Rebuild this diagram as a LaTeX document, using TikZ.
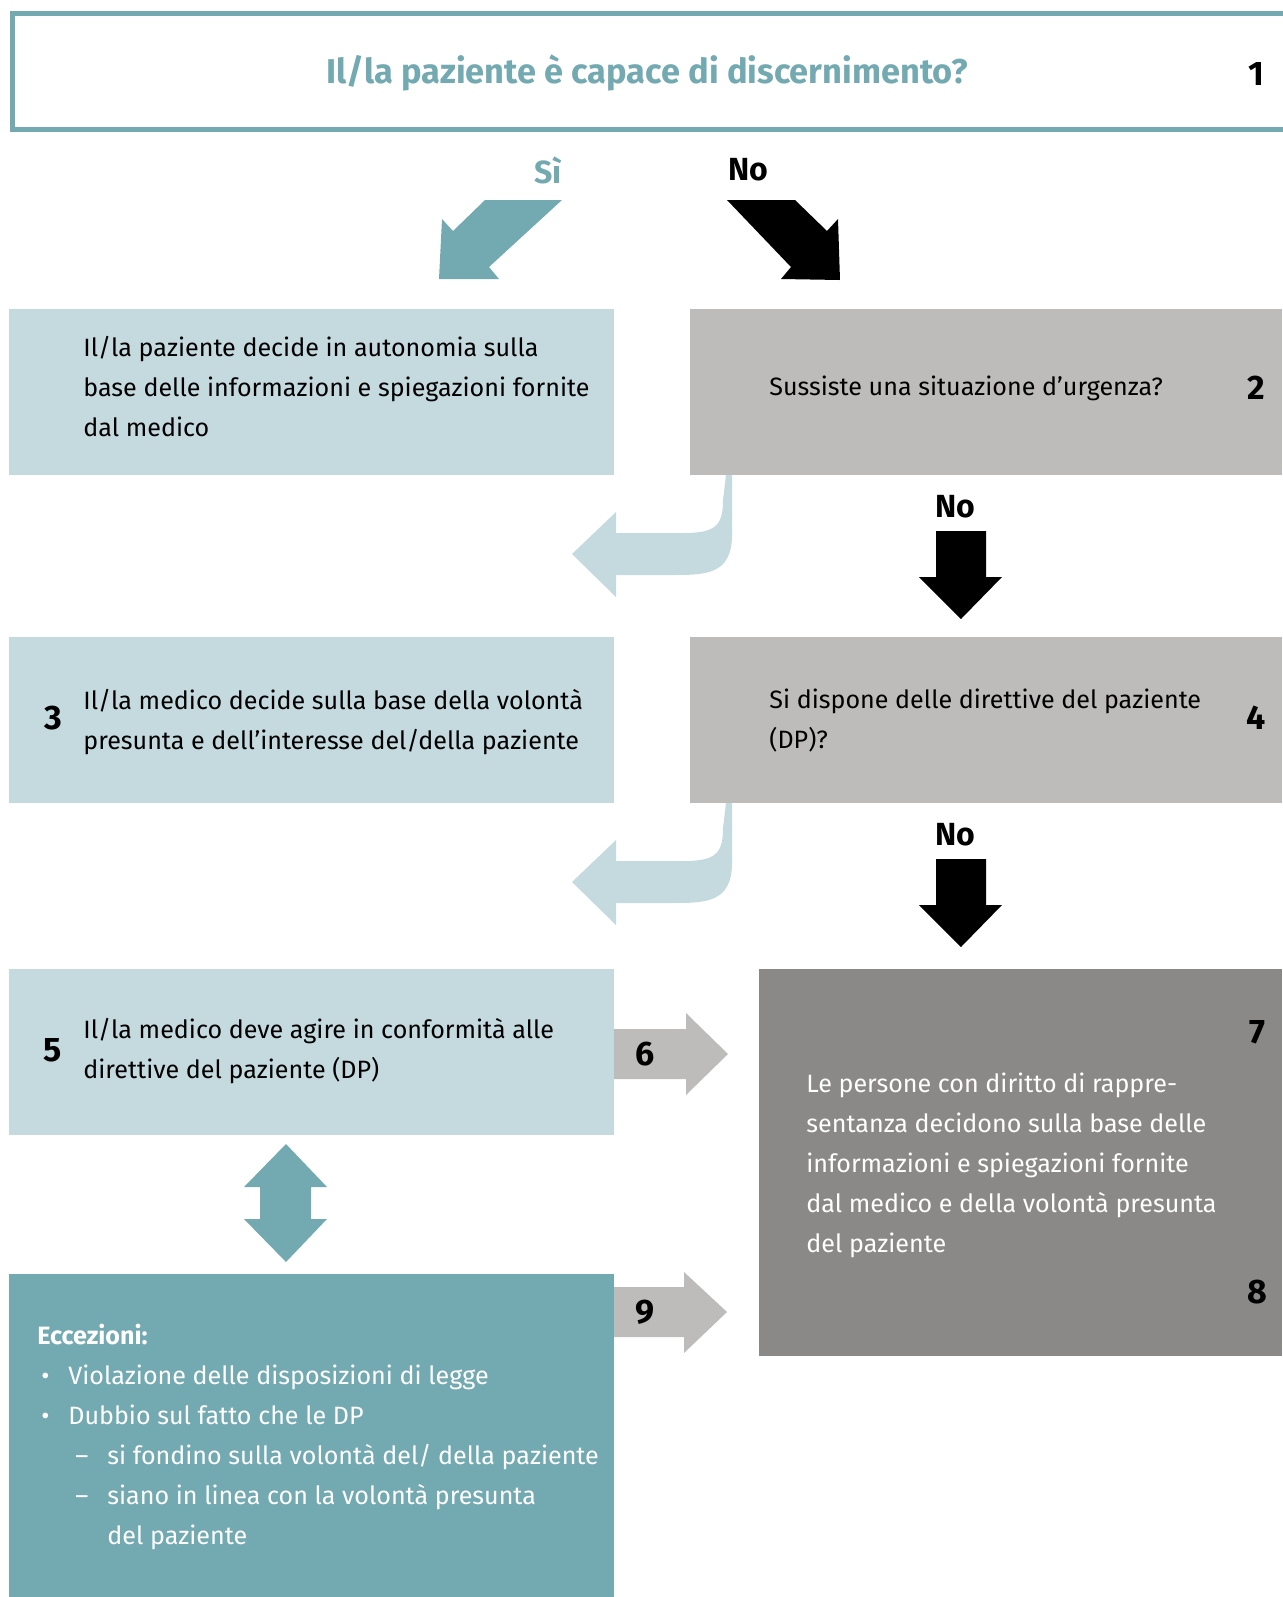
\documentclass[tikz,border=0pt]{standalone}
\usepackage{fontspec}
\setmainfont{Fira Sans}

\definecolor{swteal}{HTML}{73A9B1}
\definecolor{swlight}{HTML}{C4DADF}
\definecolor{swgray}{HTML}{BDBCBA}
\definecolor{swdark}{HTML}{8A8987}

\tikzset{
    txt/.style={anchor=west,align=left,inner sep=0pt,font=\fontsize{12.55}{20}\selectfont},
    num/.style={inner sep=0pt,font=\fontsize{17}{20}\selectfont\bfseries},
    lbl/.style={inner sep=0pt,font=\fontsize{16}{20}\selectfont\bfseries},
}

\begin{document}
\begin{tikzpicture}[x=0.5pt,y=-0.5pt]
    \useasboundingbox (0,0) rectangle (1282,1597);

    % question 1
    \draw[swteal,line width=2.5pt] (12,13.5) rectangle (1300,129.5);
    \node[lbl,text=swteal,font=\fontsize{17.2}{20}\selectfont\bfseries] (q1) at (647,73) {Il/la paziente è capace di discernimento?};
    \node[num] (n1) at (1256,74) {1};

    \node[lbl,text=swteal] (si) at (548,170) {Sì};
    \node[lbl] (no1) at (748,170) {No};
    \fill[swteal] (485,200) -- (562,200) -- (489,267) -- (499,279) -- (439,279) -- (442,219) -- (453,231) -- cycle;
    \fill[black] (727,200) -- (795,200) -- (827,231) -- (838,219) -- (840,280) -- (781,279) -- (791,267) -- cycle;

    % boxes
    \fill[swlight] (9,309) rectangle (614,475);
    \fill[swgray] (690,309) rectangle (1282,475);
    \fill[swlight] (9,637) rectangle (614,803);
    \fill[swgray] (690,637) rectangle (1282,803);
    \fill[swlight] (9,969) rectangle (614,1135);
    \fill[swdark] (759,969) rectangle (1282,1356);
    \fill[swteal] (9,1274) rectangle (614,1597);

    \node[txt] (t1) at (83,387) {Il/la paziente decide in autonomia sulla\\base delle informazioni e spiegazioni fornite\\dal medico};
    \node[txt] (t2) at (769,388) {Sussiste una situazione d’urgenza?};
    \node[num] (n2) at (1256,388) {2};

    \node[num] (n3) at (53,718) {3};
    \node[txt] (t3) at (83,722) {Il/la medico decide sulla base della volontà\\presunta e dell’interesse del/della paziente};
    \node[txt] (t4) at (769,721) {Si dispone delle direttive del paziente\\(DP)?};
    \node[num] (n4) at (1256,718) {4};

    \node[num] (n5) at (53,1050) {5};
    \node[txt] (t5) at (83,1051) {Il/la medico deve agire in conformità alle\\direttive del paziente (DP)};

    \node[txt,text=white] (t7) at (806,1165) {Le persone con diritto di rappre-\\sentanza decidono sulla base delle\\informazioni e spiegazioni fornite\\dal medico e della volontà presunta\\del paziente};
    \node[num] (n7) at (1257,1032) {7};
    \node[num] (n8) at (1257,1292) {8};

    % no urgency / no DP
    \foreach \d/\nm in {0/no2,328/no3} {
        \fill[swlight] (726,475+\d) -- (732,475+\d) -- (732,535+\d) .. controls (732,575+\d) and (705,575+\d) .. (672,575+\d) -- (616,575+\d) -- (616,597+\d) -- (572,554+\d) -- (616,512+\d) -- (616,533+\d) -- (684,533+\d) .. controls (716,533+\d) and (723,525+\d) .. (723,500+\d) -- cycle;
        \fill[black] (936,531+\d) -- (986,531+\d) -- (986,577+\d) -- (1002,577+\d) -- (961,619+\d) -- (919,577+\d) -- (936,577+\d) -- cycle;
        \node[lbl] (\nm) at (955,507+\d) {No};
    }

    % 6 and 9
    \fill[swgray] (614,1029) -- (686,1029) -- (686,1013) -- (728,1054) -- (686,1095) -- (686,1079) -- (614,1079) -- cycle;
    \node[num] (n6) at (645,1054) {6};
    \fill[swgray] (614,1287) -- (684,1287) -- (684,1272) -- (727,1312) -- (684,1353) -- (684,1337) -- (614,1337) -- cycle;
    \node[num] (n9) at (645,1312) {9};

    \fill[swteal] (286,1144) -- (327,1187) -- (311,1187) -- (311,1219) -- (327,1219) -- (286,1262) -- (244,1219) -- (260,1219) -- (260,1187) -- (244,1187) -- cycle;

    % exceptions
    \node[txt,text=white] (te) at (37,1437) {\textbf{Eccezioni:}\\
        \makebox[15.5pt][l]{\hspace{2pt}•}Violazione delle disposizioni di legge\\
        \makebox[15.5pt][l]{\hspace{2pt}•}Dubbio sul fatto che le DP\\
        \hspace*{15.5pt}\makebox[19.5pt][l]{\hspace{3.5pt}–}si fondino sulla volontà del/ della paziente\\
        \hspace*{15.5pt}\makebox[19.5pt][l]{\hspace{3.5pt}–}siano in linea con la volontà presunta\\
        \hspace*{35pt}del paziente};
\end{tikzpicture}
\end{document}
